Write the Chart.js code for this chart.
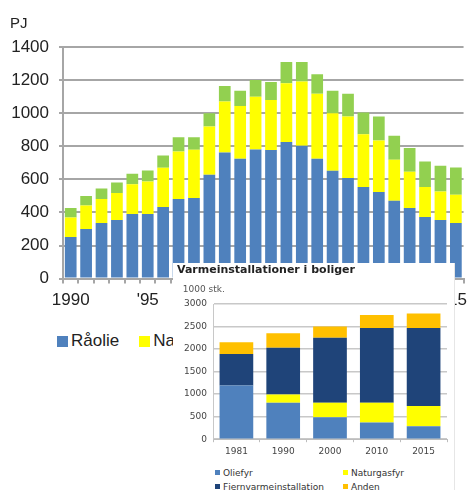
<!DOCTYPE html>
<html>
<head>
<meta charset="utf-8">
<title>Energiproduktion og varmeinstallationer</title>
<script src="https://cdn.jsdelivr.net/npm/chart.js@4.4.1/dist/chart.umd.min.js"></script>
<style>
  html, body { margin: 0; padding: 0; background: #fff; }
  body { width: 474px; height: 490px; position: relative; overflow: hidden; }
  #production { position: absolute; left: 0; top: 0; }
  #unit { position: absolute; left: 10px; top: 14px; font: 15px "Liberation Sans", Arial, sans-serif; color: #222; }
  #mainLegend { position: absolute; left: 57px; top: 331px; display: flex; gap: 20px;
                font: 17px "Liberation Sans", Arial, sans-serif; color: #222; white-space: nowrap; }
  #mainLegend div { height: 20px; line-height: 20px; }
  #mainLegend span { display: inline-block; width: 11px; height: 11px; margin-right: 3px; vertical-align: -1px; }
  #inset { position: absolute; left: 173px; top: 263px; width: 281px; height: 227px; background: #fff;
           overflow: hidden; border-right: 1px solid #e6e6e6; filter: blur(0.4px); }
  #heating { position: absolute; left: 0; top: 0; }
  #insetLegend { position: absolute; left: 42px; top: 203px; display: grid; grid-template-columns: 128px auto;
                 font: 9px "DejaVu Sans", Verdana, sans-serif; color: #333; }
  #insetLegend div { height: 14px; line-height: 14px; white-space: nowrap; }
  #insetLegend span { display: inline-block; width: 5px; height: 5px; margin-right: 3px; vertical-align: 1px; }
</style>
</head>
<body>
<canvas id="production" width="474" height="318"></canvas>
<div id="unit">PJ</div>
<div id="mainLegend"></div>
<div id="inset">
  <canvas id="heating" width="281" height="198"></canvas>
  <div id="insetLegend"></div>
</div>
<script>
// Primary energy production, PJ per year
const years = ['1990', '1991', '1992', '1993', '1994', '1995', '1996', '1997', '1998', '1999',
               '2000', '2001', '2002', '2003', '2004', '2005', '2006', '2007', '2008', '2009',
               '2010', '2011', '2012', '2013', '2014', '2015'];
const yearTicks = ['1990', '', '', '', '', "'95", '', '', '', '', '2000', '', '', '', '', "'05",
                   '', '', '', '', "'10", '', '', '', '', "'15"];
const crudeOil = [252, 300, 336, 354, 390, 390, 433, 481, 487, 628, 762, 724, 780, 778, 825, 803,
                  724, 652, 608, 553, 523, 471, 427, 372, 354, 336];
const naturalGas = [118, 142, 145, 163, 181, 197, 237, 287, 292, 291, 308, 320, 320, 302, 356, 388,
                    393, 348, 372, 320, 312, 247, 219, 181, 173, 171];
const renewables = [57, 57, 64, 64, 63, 67, 74, 87, 76, 81, 95, 92, 101, 109, 129, 119,
                    118, 136, 137, 131, 145, 145, 143, 155, 155, 165];
const productionNames = ['Råolie', 'Naturgas', 'Vedvarende energi mv.'];
const productionColors = ['#4f81bd', '#ffff00', '#92d050'];

// Heating installations in dwellings, 1000 units
const installYears = ['1981', '1990', '2000', '2010', '2015'];
const oilBoilers = [1190, 810, 485, 370, 290];
const gasBoilers = [0, 180, 325, 440, 445];
const districtHeating = [700, 1040, 1440, 1660, 1735];
const otherHeating = [260, 320, 250, 285, 320];
const heatingNames = ['Oliefyr', 'Naturgasfyr', 'Fjernvarmeinstallation', 'Anden'];
const heatingColors = ['#4f81bd', '#ffff00', '#1f4479', '#ffc000'];

const gridGrey = '#a6a6a6';
const mainFont = 'Liberation Sans';

const productionChart = new Chart(document.getElementById('production'), {
    type: 'bar',
    data: {
        labels: years,
        datasets: [crudeOil, naturalGas, renewables].map((values, i) => ({
            label: productionNames[i],
            data: values,
            backgroundColor: productionColors[i]
        }))
    },
    options: {
        responsive: false,
        animation: false,
        layout: { padding: { left: 0, right: 3, top: 47, bottom: 0 } },
        datasets: { bar: { barPercentage: 0.76, categoryPercentage: 1 } },
        plugins: {
            legend: { display: false },
            tooltip: { enabled: false }
        },
        scales: {
            x: {
                stacked: true,
                grid: { drawOnChartArea: false, tickLength: 5, color: gridGrey, lineWidth: 2 },
                border: { color: gridGrey, width: 2 },
                ticks: {
                    autoSkip: false,
                    maxRotation: 0,
                    padding: 7,
                    color: '#222',
                    font: { family: mainFont, size: 17 },
                    callback: (value, index) => yearTicks[index]
                }
            },
            y: {
                stacked: true,
                min: 0,
                max: 1400,
                ticks: {
                    stepSize: 200,
                    padding: 10,
                    color: '#222',
                    font: { family: mainFont, size: 17 },
                    callback: value => String(value)
                },
                grid: { color: gridGrey, lineWidth: 2, tickLength: 4 },
                border: { color: gridGrey, width: 2 },
                afterFit: scale => { scale.width = 63; }
            }
        }
    }
});

// Inset: heating installations
const heatingChart = new Chart(document.getElementById('heating'), {
    type: 'bar',
    data: {
        labels: installYears,
        datasets: [oilBoilers, gasBoilers, districtHeating, otherHeating].map((values, i) => ({
            label: heatingNames[i],
            data: values,
            backgroundColor: heatingColors[i]
        }))
    },
    options: {
        responsive: false,
        animation: false,
        layout: { padding: { left: 4, right: 7, top: 1, bottom: 0 } },
        datasets: { bar: { barPercentage: 0.72, categoryPercentage: 1 } },
        plugins: {
            legend: { display: false },
            tooltip: { enabled: false },
            title: {
                display: true,
                text: 'Varmeinstallationer i boliger',
                align: 'start',
                color: '#222',
                font: { family: 'DejaVu Sans', size: 11, weight: 'bold' },
                padding: { top: 0, bottom: 4 }
            },
            subtitle: {
                display: true,
                text: '  1000 stk.',
                align: 'start',
                color: '#555',
                font: { family: 'DejaVu Sans', size: 9 },
                padding: { top: 3.4, bottom: 8.6 }
            }
        },
        scales: {
            x: {
                stacked: true,
                grid: { drawOnChartArea: false, tickLength: 3, color: '#bdbdbd' },
                border: { color: '#bdbdbd' },
                ticks: { padding: 4, color: '#444', font: { family: 'DejaVu Sans', size: 9 } }
            },
            y: {
                stacked: true,
                min: 0,
                max: 3000,
                ticks: {
                    stepSize: 500,
                    padding: 6,
                    color: '#444',
                    font: { family: 'DejaVu Sans', size: 9 },
                    callback: value => String(value)
                },
                grid: { color: '#c8c8c8', lineWidth: 1.5, drawTicks: false },
                border: { color: '#c8c8c8' },
                afterFit: scale => { scale.width = 36; }
            }
        }
    }
});

// Legends built from the datasets
function buildLegend(chart, containerId) {
    const container = document.getElementById(containerId);
    chart.data.datasets.forEach(ds => {
        const item = document.createElement('div');
        const swatch = document.createElement('span');
        swatch.style.background = ds.backgroundColor;
        item.appendChild(swatch);
        item.appendChild(document.createTextNode(ds.label));
        container.appendChild(item);
    });
}
buildLegend(productionChart, 'mainLegend');
buildLegend(heatingChart, 'insetLegend');
</script>
</body>
</html>
